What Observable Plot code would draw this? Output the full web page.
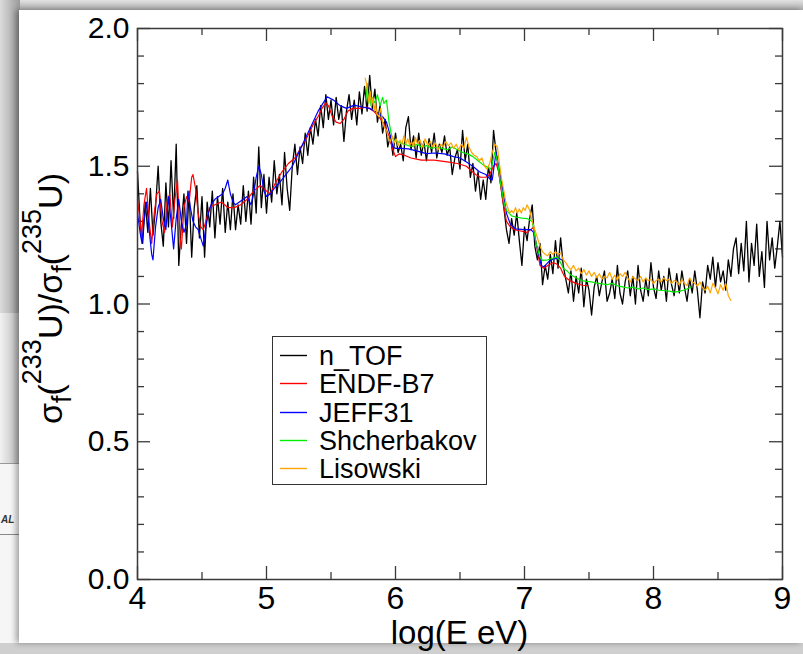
<!DOCTYPE html>
<html>
<head>
<meta charset="utf-8">
<script src="https://cdn.jsdelivr.net/npm/d3@7"></script>
<script src="https://cdn.jsdelivr.net/npm/@observablehq/plot@0.6"></script>
<style>
html,body{margin:0;padding:0;}
body{width:803px;height:654px;position:relative;overflow:hidden;background:#d0d0d0;font-family:"Liberation Sans",Arial,Helvetica,sans-serif;}
#topband{position:absolute;left:0;top:0;width:803px;height:11px;background:linear-gradient(#e2e2e2,#a8a8a8);}
#leftA{position:absolute;left:0;top:0;width:20px;height:313px;background:linear-gradient(90deg,#dcdcdc,#9a9a9a);}
#leftB{position:absolute;left:0;top:313px;width:20px;height:150px;background:linear-gradient(90deg,#f2f2f2,#b8b8b8);}
#leftC{position:absolute;left:0;top:463px;width:20px;height:191px;background:#f6f6f6;border-top:1px solid #999;}
#leftC .al{position:absolute;left:1px;top:50px;font:italic bold 10px "Liberation Sans",Arial,sans-serif;color:#333;}
#leftC .ln{position:absolute;left:0;top:70px;width:20px;height:1px;background:#888;}
#bottomband{position:absolute;left:0;top:643px;width:803px;height:11px;background:#cfcfcf;}
#panel{position:absolute;left:19px;top:10px;width:784px;height:633px;background:#fff;box-shadow:-3px 0 6px rgba(0,0,0,0.35);}
#chart{position:absolute;left:0;top:0;}
#legend{position:absolute;left:272px;top:336px;width:215px;height:149px;box-sizing:border-box;border:1px solid #333;background:#fff;z-index:2;}
#legend .item{position:absolute;left:0;height:30px;line-height:30px;font-size:27px;color:#000;white-space:nowrap;}
#legend svg.sw{position:absolute;left:7px;top:12px;width:27px;height:5px;}
#legend .lab{position:absolute;left:46px;top:0;}
</style>
</head>
<body>
<div id="topband"></div>
<div id="leftA"></div>
<div id="leftB"></div>
<div id="leftC"><div class="al">AL</div><div class="ln"></div></div>
<div id="bottomband"></div>
<div id="panel"></div>
<div id="chart"></div>
<div id="legend"></div>
<script>
// ---------------- data ----------------
const seriesNames = ["n_TOF", "ENDF-B7", "JEFF31", "Shcherbakov", "Lisowski"];
const seriesColors = ["#000000", "#ff0000", "#0000ff", "#00ee00", "#ffa500"];

const xTickValues = [4, 5, 6, 7, 8, 9];
const xMinorTicks = [4.5, 5.5, 6.5, 7.5, 8.5];
const yTickValues = [0.0, 0.5, 1.0, 1.5, 2.0];
const yMinorTicks = [0.1, 0.2, 0.3, 0.4, 0.6, 0.7, 0.8, 0.9, 1.1, 1.2, 1.3, 1.4, 1.6, 1.7, 1.8, 1.9];

// n_TOF ratio, log10(E) bins from 4.00 in steps of 0.02
const nTofStart = 4.0, nTofStep = 0.02;
const nTofRatio = [
  1.48,1.30,1.22,1.37,1.26,1.42,1.25,1.35,1.50,1.30,
  1.21,1.44,1.28,1.52,1.31,1.58,1.14,1.29,1.40,1.22,
  1.41,1.17,1.35,1.43,1.24,1.39,1.17,1.37,1.28,1.41,
  1.24,1.39,1.29,1.42,1.26,1.37,1.27,1.40,1.27,1.36,
  1.29,1.43,1.30,1.41,1.29,1.46,1.33,1.57,1.35,1.47,
  1.33,1.46,1.37,1.52,1.40,1.47,1.36,1.55,1.42,1.34,
  1.50,1.58,1.47,1.57,1.51,1.62,1.54,1.64,1.58,1.67,
  1.61,1.72,1.64,1.76,1.67,1.74,1.65,1.75,1.67,1.72,
  1.59,1.70,1.76,1.67,1.74,1.65,1.77,1.69,1.79,1.70,
  1.83,1.71,1.78,1.66,1.72,1.62,1.67,1.57,1.61,1.54,
  1.62,1.55,1.58,1.52,1.64,1.68,1.56,1.61,1.53,1.62,
  1.54,1.59,1.52,1.60,1.55,1.62,1.53,1.58,1.55,1.61,
  1.54,1.57,1.47,1.53,1.56,1.49,1.63,1.52,1.58,1.46,
  1.51,1.41,1.48,1.38,1.45,1.38,1.50,1.44,1.63,1.55,
  1.48,1.42,1.35,1.27,1.22,1.31,1.25,1.33,1.23,1.14,
  1.28,1.23,1.31,1.36,1.21,1.16,1.22,1.07,1.14,1.09,
  1.18,1.11,1.23,1.13,1.24,1.14,1.09,1.04,1.12,1.01,
  1.10,1.04,1.13,0.99,1.09,1.05,0.96,1.06,1.10,1.03,
  1.08,1.12,1.01,1.04,1.09,1.02,1.14,1.04,1.00,1.08,
  1.12,1.03,1.10,1.00,1.14,1.05,1.01,1.09,1.03,1.15,
  1.06,1.02,1.12,1.05,1.10,1.01,1.13,1.07,1.03,1.11,
  1.04,1.12,1.06,1.01,1.09,1.04,1.12,1.05,0.95,1.08,
  1.04,1.14,1.09,1.17,1.06,1.15,1.08,1.12,1.05,1.16,
  1.10,1.20,1.24,1.11,1.22,1.12,1.30,1.08,1.22,1.14,
  1.29,1.10,1.19,1.06,1.30,1.16,1.24,1.13,1.21,1.30,
  1.17
];

const endfLogE = [4.00,4.02,4.03,4.05,4.07,4.09,4.11,4.13,4.15,4.17,4.19,4.21,4.23,4.25,4.27,4.29,4.31,4.33,4.34,4.36,4.38,4.40,4.42,4.43,4.45,4.47,4.49,4.51,4.53,4.56,4.60,4.65,4.70,4.75,4.80,4.85,4.90,4.95,5.00,5.03,5.07,5.12,5.17,5.22,5.27,5.32,5.36,5.40,5.43,5.46,5.48,5.51,5.54,5.57,5.60,5.63,5.67,5.72,5.78,5.83,5.87,5.91,5.95,5.98,6.00,6.03,6.07,6.12,6.20,6.30,6.40,6.48,6.55,6.62,6.66,6.70,6.73,6.76,6.78,6.80,6.83,6.86,6.89,6.92,6.97,7.02,7.05,7.07,7.09,7.12,7.15,7.18,7.22,7.25,7.28,7.31,7.35,7.40,7.45,7.49];
const endfRatio = [1.38,1.30,1.24,1.36,1.42,1.30,1.22,1.33,1.40,1.41,1.30,1.26,1.37,1.40,1.28,1.38,1.45,1.24,1.20,1.35,1.39,1.37,1.46,1.47,1.42,1.33,1.28,1.27,1.30,1.35,1.36,1.37,1.35,1.35,1.36,1.38,1.41,1.43,1.41,1.40,1.44,1.48,1.51,1.53,1.57,1.61,1.65,1.68,1.71,1.73,1.72,1.68,1.66,1.655,1.67,1.70,1.71,1.71,1.715,1.70,1.68,1.655,1.61,1.56,1.535,1.545,1.54,1.53,1.522,1.522,1.516,1.51,1.50,1.47,1.46,1.46,1.47,1.50,1.51,1.48,1.38,1.30,1.28,1.27,1.265,1.26,1.27,1.28,1.22,1.14,1.13,1.14,1.15,1.145,1.13,1.10,1.085,1.075,1.068,1.067];

const jeffLogE = [4.00,4.02,4.035,4.05,4.07,4.09,4.11,4.12,4.14,4.16,4.18,4.20,4.22,4.24,4.26,4.28,4.30,4.32,4.34,4.36,4.38,4.39,4.41,4.43,4.45,4.47,4.49,4.51,4.53,4.55,4.57,4.60,4.63,4.66,4.68,4.70,4.72,4.74,4.76,4.79,4.82,4.85,4.88,4.90,4.92,4.94,4.96,4.98,5.00,5.03,5.06,5.10,5.15,5.20,5.25,5.30,5.35,5.40,5.44,5.47,5.52,5.57,5.62,5.68,5.74,5.80,5.85,5.90,5.93,5.96,5.98,6.00,6.05,6.10,6.17,6.24,6.30,6.38,6.45,6.50,6.55,6.60,6.65,6.70,6.73,6.75,6.77,6.78,6.80,6.83,6.86,6.89,6.93,7.00,7.05,7.07,7.10,7.13,7.15,7.19,7.23,7.27,7.29];
const jeffRatio = [1.33,1.26,1.22,1.30,1.37,1.27,1.18,1.16,1.28,1.35,1.38,1.31,1.27,1.39,1.30,1.20,1.31,1.38,1.30,1.26,1.29,1.41,1.35,1.30,1.28,1.27,1.24,1.21,1.28,1.33,1.36,1.38,1.39,1.40,1.42,1.45,1.40,1.37,1.36,1.37,1.38,1.39,1.36,1.40,1.46,1.50,1.47,1.41,1.39,1.40,1.42,1.44,1.47,1.50,1.55,1.60,1.65,1.70,1.73,1.752,1.74,1.72,1.71,1.722,1.715,1.71,1.697,1.68,1.66,1.61,1.57,1.565,1.565,1.563,1.555,1.546,1.548,1.545,1.535,1.53,1.515,1.50,1.48,1.47,1.455,1.45,1.52,1.55,1.50,1.42,1.33,1.29,1.273,1.27,1.27,1.26,1.20,1.14,1.135,1.155,1.165,1.165,1.16];

const shchLogE = [5.77,5.78,5.79,5.80,5.81,5.82,5.84,5.86,5.88,5.90,5.91,5.93,5.95,5.97,5.99,6.01,6.04,6.07,6.10,6.13,6.17,6.20,6.24,6.28,6.32,6.36,6.40,6.44,6.48,6.52,6.56,6.60,6.64,6.68,6.71,6.74,6.76,6.77,6.79,6.81,6.84,6.86,6.90,6.94,6.98,7.02,7.06,7.09,7.12,7.14,7.18,7.21,7.25,7.27,7.30,7.33,7.36,7.40,7.44,7.48,7.52,7.56,7.60,7.64,7.68,7.72,7.76,7.80,7.84,7.88,7.92,7.96,8.00,8.04,8.08,8.12,8.16,8.20,8.23,8.26,8.29];
const shchRatio = [1.74,1.80,1.73,1.77,1.72,1.75,1.73,1.76,1.72,1.75,1.728,1.74,1.66,1.61,1.594,1.59,1.585,1.58,1.575,1.572,1.58,1.57,1.575,1.565,1.57,1.565,1.56,1.57,1.56,1.55,1.545,1.535,1.52,1.505,1.497,1.49,1.53,1.55,1.52,1.45,1.37,1.34,1.32,1.315,1.312,1.31,1.30,1.22,1.17,1.158,1.16,1.165,1.17,1.16,1.13,1.12,1.105,1.095,1.085,1.082,1.08,1.076,1.073,1.07,1.075,1.066,1.062,1.058,1.061,1.055,1.058,1.052,1.055,1.05,1.049,1.047,1.043,1.046,1.05,1.055,1.061];

const lisoLogE = [5.765,5.775,5.785,5.795,5.805,5.815,5.825,5.835,5.845,5.855,5.87,5.885,5.90,5.915,5.93,5.945,5.96,5.975,5.99,6.005,6.02,6.035,6.05,6.065,6.08,6.095,6.11,6.125,6.14,6.155,6.17,6.19,6.21,6.23,6.25,6.27,6.29,6.31,6.33,6.35,6.37,6.39,6.41,6.43,6.45,6.47,6.49,6.51,6.53,6.55,6.57,6.59,6.61,6.63,6.65,6.67,6.69,6.71,6.73,6.75,6.77,6.79,6.80,6.82,6.84,6.855,6.87,6.885,6.90,6.915,6.93,6.945,6.96,6.975,6.99,7.005,7.02,7.04,7.06,7.08,7.10,7.12,7.14,7.16,7.18,7.20,7.22,7.24,7.26,7.28,7.30,7.32,7.34,7.36,7.38,7.40,7.42,7.44,7.46,7.48,7.50,7.52,7.54,7.56,7.58,7.60,7.62,7.64,7.66,7.68,7.70,7.72,7.74,7.76,7.78,7.80,7.82,7.84,7.86,7.88,7.90,7.92,7.94,7.96,7.98,8.00,8.02,8.04,8.06,8.08,8.10,8.12,8.14,8.16,8.18,8.20,8.22,8.24,8.26,8.28,8.30,8.32,8.34,8.36,8.38,8.40,8.42,8.44,8.46,8.48,8.50,8.52,8.54,8.56,8.58,8.60];
const lisoRatio = [1.82,1.80,1.76,1.73,1.77,1.72,1.75,1.70,1.73,1.69,1.68,1.71,1.66,1.64,1.63,1.60,1.59,1.61,1.585,1.60,1.575,1.595,1.58,1.61,1.58,1.60,1.575,1.59,1.57,1.605,1.58,1.595,1.57,1.60,1.575,1.59,1.57,1.585,1.56,1.58,1.57,1.59,1.575,1.585,1.565,1.58,1.56,1.58,1.565,1.605,1.57,1.55,1.54,1.535,1.52,1.53,1.50,1.49,1.51,1.55,1.58,1.57,1.53,1.46,1.41,1.37,1.35,1.33,1.34,1.33,1.35,1.33,1.345,1.33,1.35,1.34,1.36,1.34,1.30,1.27,1.24,1.21,1.19,1.18,1.175,1.19,1.18,1.19,1.18,1.185,1.16,1.15,1.135,1.125,1.14,1.12,1.13,1.11,1.125,1.105,1.12,1.10,1.115,1.095,1.11,1.09,1.10,1.095,1.115,1.09,1.105,1.085,1.11,1.10,1.115,1.095,1.08,1.10,1.09,1.085,1.10,1.08,1.095,1.085,1.09,1.074,1.085,1.09,1.08,1.095,1.085,1.09,1.075,1.085,1.08,1.07,1.09,1.075,1.067,1.095,1.08,1.075,1.065,1.08,1.06,1.05,1.065,1.04,1.075,1.06,1.037,1.07,1.05,1.075,1.03,1.013];

// ---------------- build tables ----------------
const toRows = (xs, ys, name) => xs.map((x, i) => ({x, y: ys[i], series: name}));
const nTofRows = nTofRatio.map((y, i) => ({x: nTofStart + i * nTofStep, y, series: seriesNames[0]}));
const modelRows = [
  toRows(endfLogE, endfRatio, seriesNames[1]),
  toRows(jeffLogE, jeffRatio, seriesNames[2]),
  toRows(shchLogE, shchRatio, seriesNames[3]),
  toRows(lisoLogE, lisoRatio, seriesNames[4])
];

const W = 803, H = 654, mL = 137, mR = 21, mT = 28, mB = 75;
const FH = H - mT - mB, FW = W - mL - mR;
const axisColor = "#3a3a3a";
const majorLen = 13, minorLen = 7;

const chart = Plot.plot({
  width: W, height: H,
  marginLeft: mL, marginRight: mR, marginTop: mT, marginBottom: mB,
  style: {background: "transparent", fontFamily: "'Liberation Sans', Arial, sans-serif", color: "#000", overflow: "visible"},
  x: {domain: [4, 9]},
  y: {domain: [0, 2]},
  marks: [
    // inward ticks on all four sides
    Plot.ruleX(xTickValues, {x: d => d, insetTop: FH - majorLen, stroke: axisColor, strokeWidth: 1.3}),
    Plot.ruleX(xTickValues, {x: d => d, insetBottom: FH - majorLen, stroke: axisColor, strokeWidth: 1.3}),
    Plot.ruleX(xMinorTicks, {x: d => d, insetTop: FH - minorLen, stroke: axisColor, strokeWidth: 1.3}),
    Plot.ruleX(xMinorTicks, {x: d => d, insetBottom: FH - minorLen, stroke: axisColor, strokeWidth: 1.3}),
    Plot.ruleY(yTickValues, {y: d => d, insetRight: FW - majorLen, stroke: axisColor, strokeWidth: 1.3}),
    Plot.ruleY(yTickValues, {y: d => d, insetLeft: FW - majorLen, stroke: axisColor, strokeWidth: 1.3}),
    Plot.ruleY(yMinorTicks, {y: d => d, insetRight: FW - minorLen, stroke: axisColor, strokeWidth: 1.3}),
    Plot.ruleY(yMinorTicks, {y: d => d, insetLeft: FW - minorLen, stroke: axisColor, strokeWidth: 1.3}),
    // data
    Plot.line(nTofRows, {x: "x", y: "y", stroke: seriesColors[0], strokeWidth: 1.3}),
    ...modelRows.map((rows, i) => Plot.line(rows, {x: "x", y: "y", stroke: seriesColors[i + 1], strokeWidth: 1.2})),
    Plot.frame({stroke: axisColor, strokeWidth: 1.5}),
    Plot.axisX(xTickValues, {tickSize: 0, tickPadding: 7, fontSize: 32, label: null, tickFormat: d => String(d)}),
    Plot.axisY(yTickValues, {tickSize: 0, tickPadding: 8, fontSize: 30, label: null, tickFormat: d => d.toFixed(1)})
  ]
});
document.getElementById("chart").appendChild(chart);

// axis titles
const svg = d3.select(chart);
svg.append("text")
  .attr("x", mL + FW / 2).attr("y", 644)
  .attr("text-anchor", "middle").attr("font-size", 33).attr("fill", "#000")
  .text("log(E eV)");

const yl = svg.append("text")
  .attr("transform", `translate(62,${mT + FH / 2 - 5}) rotate(-90)`)
  .attr("text-anchor", "middle").attr("fill", "#000").attr("font-size", 34);
const yParts = [["σ", 0, 34], ["f", 9, 27], ["(", -9, 34], ["233", -21, 27], ["U)/σ", 21, 34], ["f", 9, 27], ["(", -9, 34], ["235", -21, 27], ["U)", 21, 34]];
yParts.forEach(([t, dy, fs]) => yl.append("tspan").attr("dy", dy).attr("font-size", fs).text(t));

// legend
const NS = "http://www.w3.org/2000/svg";
const legend = document.getElementById("legend");
const rowTops = [4, 32, 61, 89, 117];
seriesNames.forEach((name, i) => {
  const item = document.createElement("div");
  item.className = "item";
  item.style.top = rowTops[i] + "px";
  const sw = document.createElementNS(NS, "svg");
  sw.setAttribute("class", "sw");
  sw.setAttribute("width", "27");
  sw.setAttribute("height", "5");
  const ln = document.createElementNS(NS, "line");
  ln.setAttribute("x1", "0"); ln.setAttribute("x2", "27");
  ln.setAttribute("y1", "2.5"); ln.setAttribute("y2", "2.5");
  ln.setAttribute("stroke", seriesColors[i]);
  ln.setAttribute("stroke-width", "1.4");
  sw.appendChild(ln);
  const lab = document.createElement("div");
  lab.className = "lab";
  lab.textContent = name;
  item.appendChild(sw);
  item.appendChild(lab);
  legend.appendChild(item);
});
</script>
</body>
</html>
